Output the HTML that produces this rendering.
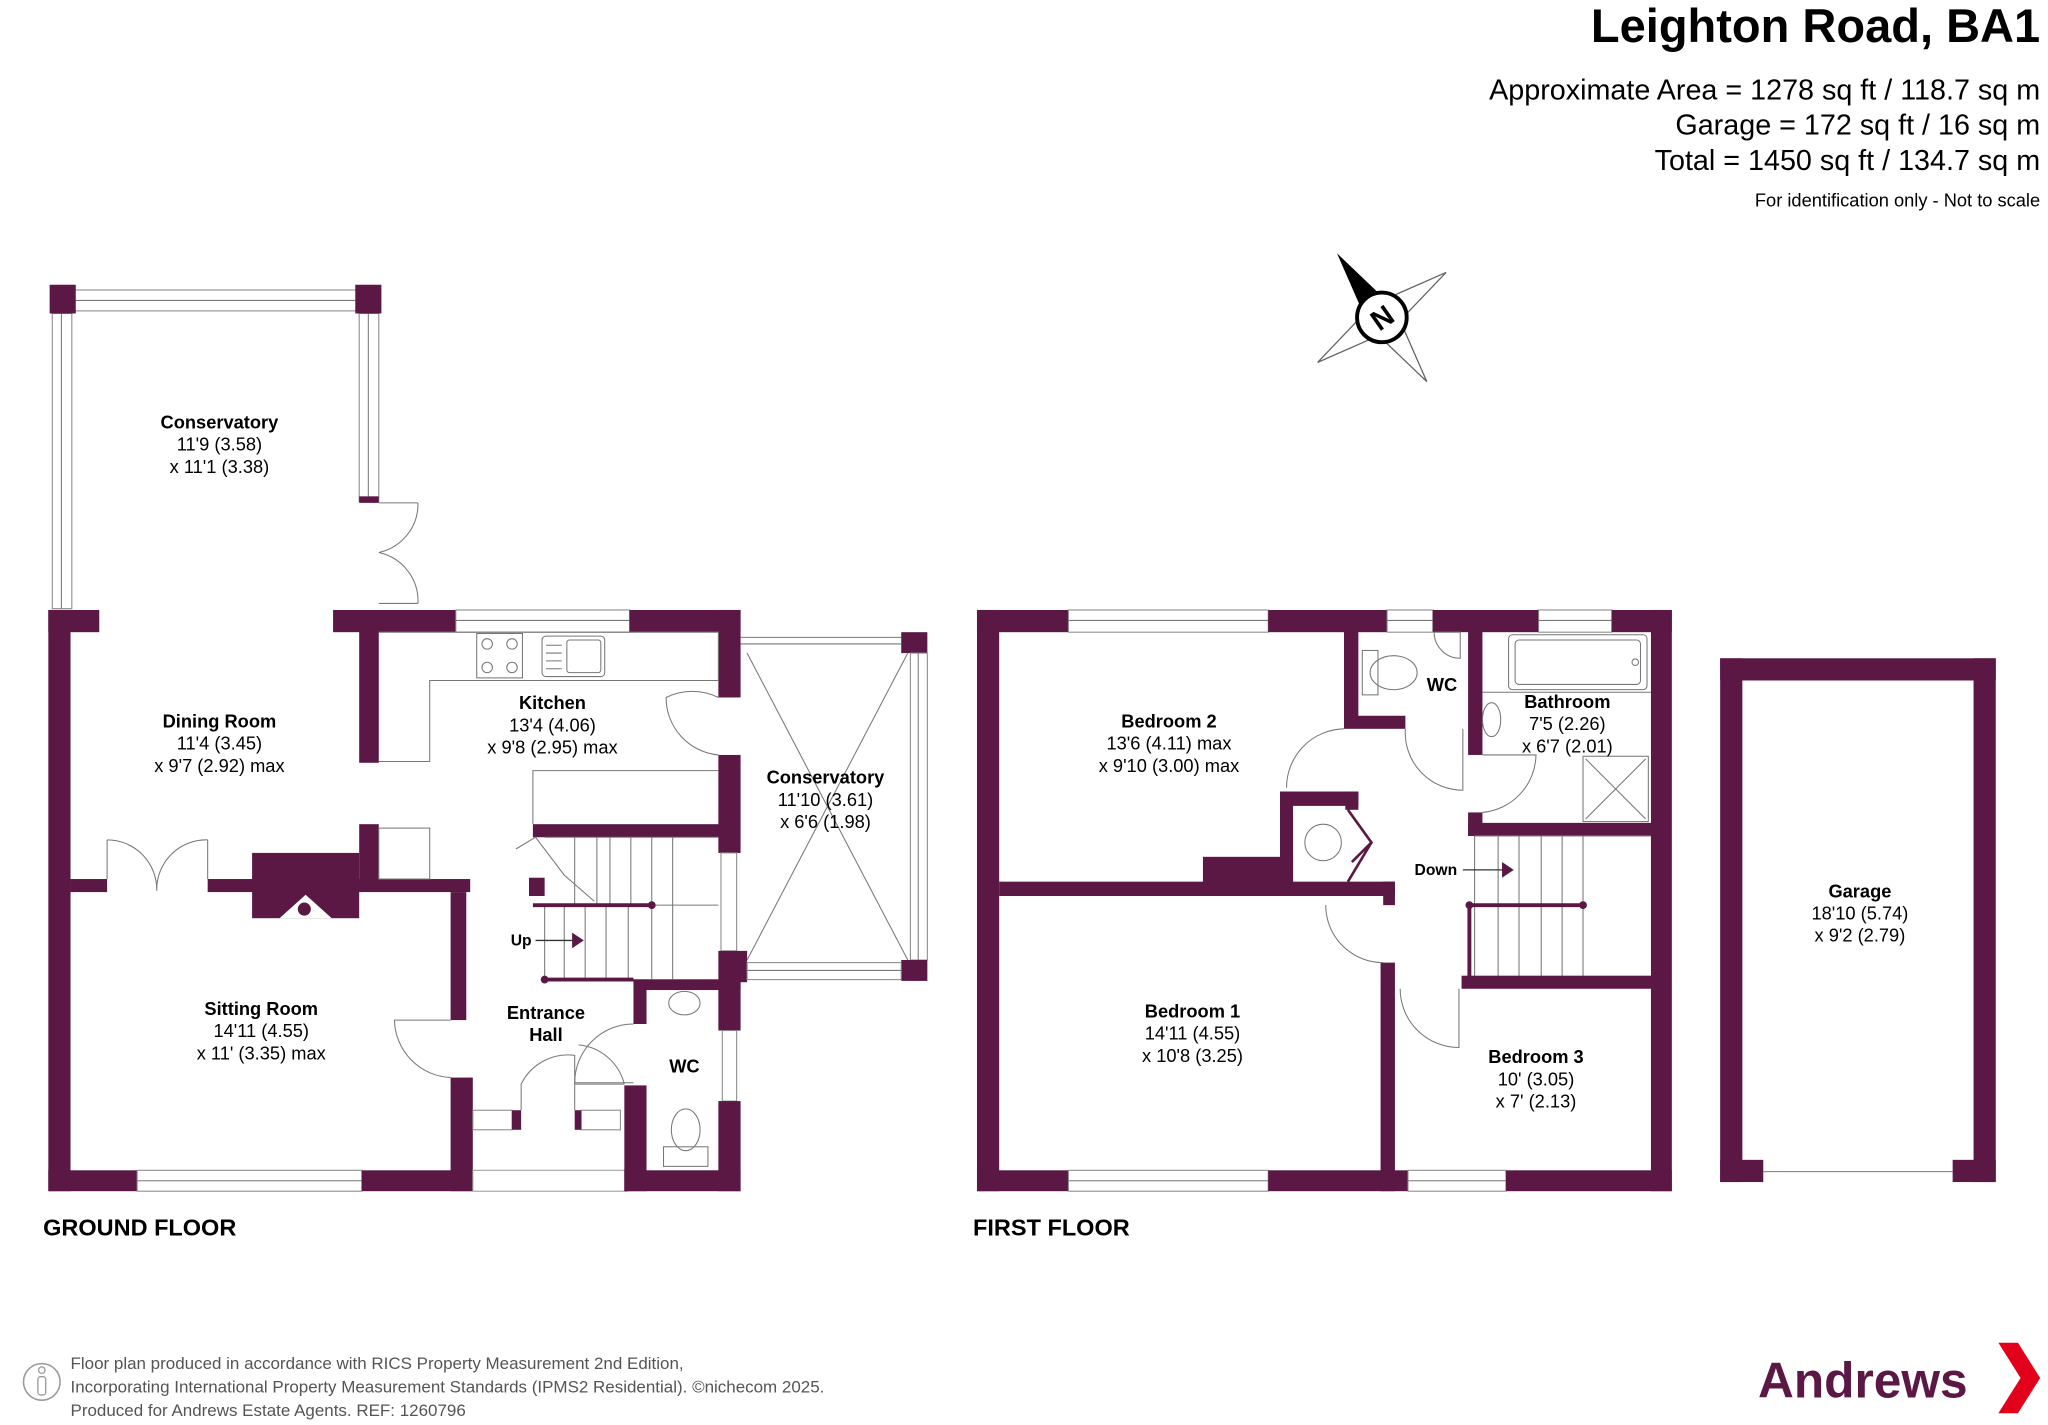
<!DOCTYPE html>
<html><head><meta charset="utf-8"><style>
html,body{margin:0;padding:0;background:#fff;}
svg{display:block;}
text{font-family:"Liberation Sans",Arial,sans-serif;fill:#000;}
.b{font-weight:bold;}
</style></head><body>
<svg width="2048" height="1425" viewBox="0 0 1568 1091" xmlns="http://www.w3.org/2000/svg">
<defs>
<style>.w{fill:#5c1845}.ln{fill:none;stroke:#777;stroke-width:0.8}.win{fill:#fff;stroke:#888;stroke-width:0.8}</style>
</defs>
<!-- Header -->
<text x="1562" y="32" text-anchor="end" class="b" font-size="36">Leighton Road, BA1</text>
<text x="1562" y="76" text-anchor="end" font-size="22">Approximate Area = 1278 sq ft / 118.7 sq m</text>
<text x="1562" y="103" text-anchor="end" font-size="22">Garage = 172 sq ft / 16 sq m</text>
<text x="1562" y="130" text-anchor="end" font-size="22">Total = 1450 sq ft / 134.7 sq m</text>
<text x="1562" y="158" text-anchor="end" font-size="14">For identification only - Not to scale</text>

<!-- Compass -->
<g transform="translate(1058,243) rotate(-35)">
<polygon points="0,60 10,10 0,0 -10,10" fill="#fff" stroke="#666"/>
<polygon points="-60,0 -10,-10 0,0 -10,10" fill="#fff" stroke="#666"/>
<polygon points="60,0 10,-10 0,0 10,10" fill="#fff" stroke="#666"/>
<polygon points="0,-60 10,-10 0,0 -10,-10" fill="#000"/>
</g>
<circle cx="1058" cy="243" r="19" fill="#fff" stroke="#000" stroke-width="3"/>
<text x="1058" y="251" text-anchor="middle" class="b" font-size="22" transform="rotate(-35 1058 243)">N</text>

<!-- ===== GROUND FLOOR ===== -->
<rect x="40" y="222" width="250" height="16" class="win"/>
<line x1="58" y1="230" x2="272" y2="230" class="ln"/>
<rect x="40" y="240" width="15" height="226" class="win"/>
<line x1="47" y1="240" x2="47" y2="466" class="ln"/>
<rect x="275" y="240" width="15" height="144" class="win"/>
<line x1="282" y1="240" x2="282" y2="384" class="ln"/>
<rect x="38" y="218" width="20" height="22" class="w"/>
<rect x="272" y="218" width="20" height="22" class="w"/>
<rect x="275" y="380" width="15" height="5" class="w"/>
<!-- conservatory double door -->
<path d="M290 385 L320 385 M320 385 A38 38 0 0 1 290 423 M290 423 A38 38 0 0 1 320 462 M320 462 L290 462" class="ln"/>

<!-- dining / sitting -->
<rect x="37" y="467" width="39" height="17" class="w"/>
<rect x="37" y="467" width="17" height="445" class="w"/>
<rect x="255" y="467" width="94" height="17" class="w"/>
<rect x="349" y="467" width="133" height="17" class="win"/>
<line x1="349" y1="475" x2="482" y2="475" class="ln"/>
<rect x="482" y="467" width="85" height="17" class="w"/>
<rect x="550" y="467" width="17" height="67" class="w"/>
<rect x="550" y="578" width="17" height="75" class="w"/>
<rect x="552" y="653" width="12" height="75" class="win"/>
<rect x="550" y="728" width="22" height="24" class="w"/>
<rect x="275" y="483" width="15" height="101" class="w"/>
<path d="M290 484 H550 V521 H329 V583 H290" class="ln"/>
<rect x="365" y="485" width="35" height="34" class="ln"/>
<circle cx="373" cy="493" r="4" class="ln"/><circle cx="392" cy="493" r="4" class="ln"/>
<circle cx="373" cy="511" r="4" class="ln"/><circle cx="392" cy="511" r="4" class="ln"/>
<rect x="415" y="487" width="48" height="31" rx="3" class="ln"/>
<rect x="434" y="490" width="26" height="25" rx="2" class="ln"/>
<line x1="418" y1="494" x2="430" y2="494" class="ln"/><line x1="418" y1="500" x2="430" y2="500" class="ln"/><line x1="418" y1="506" x2="430" y2="506" class="ln"/><line x1="418" y1="512" x2="430" y2="512" class="ln"/>
<path d="M408 631 V590 H550" class="ln"/>
<path d="M550 534 A45 45 0 0 0 510 534 A44 44 0 0 0 550 578" class="ln"/>
<rect x="408" y="631" width="144" height="10" class="w"/>
<rect x="54" y="673" width="28" height="10" class="w"/>
<rect x="159" y="673" width="201" height="10" class="w"/>
<rect x="193" y="653" width="82" height="50" class="w"/>
<polygon points="214,703 234,685 254,703" fill="#fff"/>
<circle cx="233" cy="696" r="5" class="w"/>
<rect x="275" y="631" width="15" height="50" class="w"/>
<rect x="290" y="634" width="39" height="39" class="ln"/>
<path d="M82 643 V673 M82 643 A38 38 0 0 1 120 682 M159 643 V673 M159 643 A38 38 0 0 0 120 682" class="ln"/>
<rect x="345" y="683" width="12" height="98" class="w"/>
<rect x="345" y="825" width="17" height="87" class="w"/>
<path d="M345 781 H302 A45 45 0 0 0 345 825" class="ln"/>
<rect x="37" y="896" width="68" height="16" class="w"/>
<rect x="105" y="896" width="172" height="16" class="win"/>
<line x1="105" y1="904" x2="277" y2="904" class="ln"/>
<rect x="277" y="896" width="85" height="16" class="w"/>
<rect x="362" y="896" width="118" height="16" fill="none" stroke="#999" stroke-width="0.8"/>
<rect x="362" y="850" width="30" height="15" class="win"/>
<rect x="392" y="850" width="7" height="15" class="w"/>
<rect x="445" y="850" width="30" height="15" class="win"/>
<rect x="440" y="850" width="5" height="15" class="w"/>
<path d="M399 850 V830 A40 40 0 0 1 440 808 V850" class="ln"/>
<path d="M440 830 H478 M478 830 A40 40 0 0 0 443 800" class="ln"/>
<path d="M417 641 H550 M417 693 H550 M417 750 H550" class="ln"/>
<path d="M440 641 V693 M457 641 V693 M467 641 V693 M483 641 V693 M499 641 V693 M515 641 V693" class="ln"/>
<path d="M417 693 V750 M432 693 V750 M448 693 V750 M464 693 V750 M481 693 V750 M499 693 V750 M515 693 V750" class="ln"/>
<line x1="408" y1="693" x2="499" y2="693" stroke="#5c1845" stroke-width="3"/>
<circle cx="499" cy="693" r="3" class="w"/>
<line x1="417" y1="750" x2="485" y2="750" stroke="#5c1845" stroke-width="3"/>
<circle cx="417" cy="750" r="3" class="w"/>
<rect x="405" y="672" width="12" height="14" class="w"/>
<path d="M395 650 L410 641 L432 670 L455 690" class="ln"/>
<text x="391" y="724" class="b" font-size="12">Up</text>
<line x1="410" y1="720" x2="438" y2="720" stroke="#333" stroke-width="1"/>
<polygon points="438,714 447,720 438,726" class="w"/>
<rect x="485" y="750" width="82" height="8" class="w"/>
<rect x="485" y="750" width="10" height="34" class="w"/>
<rect x="478" y="831" width="17" height="81" class="w"/>
<rect x="550" y="752" width="17" height="37" class="w"/>
<rect x="553" y="789" width="11" height="54" class="win"/>
<rect x="550" y="843" width="17" height="69" class="w"/>
<rect x="478" y="896" width="89" height="16" class="w"/>
<path d="M485 784 A45 45 0 0 0 440 829 H485" class="ln"/>
<ellipse cx="524" cy="768" rx="12" ry="9" class="ln"/>
<ellipse cx="525" cy="865" rx="11" ry="16" class="ln"/>
<rect x="508" y="878" width="34" height="15" class="ln"/>
<line x1="567" y1="488" x2="690" y2="488" class="ln"/>
<line x1="567" y1="493" x2="690" y2="493" class="ln"/>
<rect x="690" y="484" width="20" height="16" class="w"/>
<rect x="697" y="500" width="13" height="235" class="win"/>
<line x1="703" y1="500" x2="703" y2="735" class="ln"/>
<rect x="690" y="735" width="20" height="16" class="w"/>
<rect x="572" y="737" width="118" height="13" class="win"/>
<line x1="572" y1="743" x2="690" y2="743" class="ln"/>
<path d="M572 500 L695 735 M695 500 L572 735" class="ln"/>

<g font-size="14" text-anchor="middle">
<text x="168" y="328" class="b">Conservatory</text><text x="168" y="345">11'9 (3.58)</text><text x="168" y="362">x 11'1 (3.38)</text>
<text x="168" y="557" class="b">Dining Room</text><text x="168" y="574">11'4 (3.45)</text><text x="168" y="591">x 9'7 (2.92) max</text>
<text x="423" y="543" class="b">Kitchen</text><text x="423" y="560">13'4 (4.06)</text><text x="423" y="577">x 9'8 (2.95) max</text>
<text x="632" y="600" class="b">Conservatory</text><text x="632" y="617">11'10 (3.61)</text><text x="632" y="634">x 6'6 (1.98)</text>
<text x="200" y="777" class="b">Sitting Room</text><text x="200" y="794">14'11 (4.55)</text><text x="200" y="811">x 11' (3.35) max</text>
<text x="418" y="780" class="b">Entrance</text><text x="418" y="797" class="b">Hall</text>
<text x="524" y="821" class="b">WC</text>
</g>
<text x="33" y="946" class="b" font-size="18">GROUND FLOOR</text>

<!-- ===== FIRST FLOOR ===== -->
<rect x="748" y="467" width="17" height="445" class="w"/>
<rect x="1264" y="467" width="16" height="445" class="w"/>
<rect x="748" y="467" width="70" height="17" class="w"/>
<rect x="818" y="467" width="153" height="17" class="win"/><line x1="818" y1="475" x2="971" y2="475" class="ln"/>
<rect x="971" y="467" width="91" height="17" class="w"/>
<rect x="1062" y="467" width="35" height="17" class="win"/><line x1="1062" y1="475" x2="1097" y2="475" class="ln"/>
<rect x="1097" y="467" width="81" height="17" class="w"/>
<rect x="1178" y="467" width="56" height="17" class="win"/><line x1="1178" y1="475" x2="1234" y2="475" class="ln"/>
<rect x="1234" y="467" width="46" height="17" class="w"/>
<rect x="748" y="896" width="70" height="16" class="w"/>
<rect x="818" y="896" width="153" height="16" class="win"/><line x1="818" y1="904" x2="971" y2="904" class="ln"/>
<rect x="971" y="896" width="107" height="16" class="w"/>
<rect x="1078" y="896" width="75" height="16" class="win"/><line x1="1078" y1="904" x2="1153" y2="904" class="ln"/>
<rect x="1153" y="896" width="127" height="16" class="w"/>
<rect x="1029" y="483" width="11" height="68" class="w"/>
<rect x="1029" y="548" width="47" height="10" class="w"/>
<rect x="1124" y="483" width="11" height="95" class="w"/>
<rect x="1124" y="622" width="11" height="18" class="w"/>
<rect x="1124" y="630" width="141" height="10" class="w"/>
<ellipse cx="1067" cy="515" rx="18" ry="13" class="ln"/>
<rect x="1043" y="498" width="12" height="34" class="ln"/>
<path d="M1098 484 A20 20 0 0 0 1118 504 V484 Z" class="ln"/>
<path d="M1120 558 V605 A44 44 0 0 1 1076 558" class="ln"/>
<rect x="1155" y="486" width="106" height="42" rx="3" class="ln"/>
<rect x="1160" y="490" width="96" height="34" rx="3" class="ln"/>
<circle cx="1252" cy="507" r="2.5" class="ln"/>
<line x1="1135" y1="530" x2="1264" y2="530" class="ln"/>
<ellipse cx="1142" cy="551" rx="7" ry="13" class="ln"/>
<rect x="1212" y="579" width="50" height="50" class="ln"/>
<path d="M1214 581 L1260 627 M1260 581 L1214 627" class="ln"/>
<path d="M1135 578 H1176 A45 45 0 0 1 1135 622" class="ln"/>
<path d="M1129 640 H1264 M1129 749 H1264" class="ln"/>
<path d="M1129 640 V749 M1147 640 V749 M1163 640 V749 M1180 640 V749 M1196 640 V749 M1212 640 V749" class="ln"/>
<line x1="1125" y1="693" x2="1212" y2="693" stroke="#5c1845" stroke-width="3"/>
<line x1="1125" y1="693" x2="1125" y2="749" stroke="#5c1845" stroke-width="3"/>
<circle cx="1125" cy="693" r="3" class="w"/><circle cx="1212" cy="693" r="3" class="w"/>
<text x="1083" y="670" class="b" font-size="12">Down</text>
<line x1="1120" y1="666" x2="1150" y2="666" stroke="#333" stroke-width="1"/>
<polygon points="1150,660 1159,666 1150,672" class="w"/>
<rect x="1119" y="747" width="146" height="10" class="w"/>
<rect x="765" y="675" width="303" height="11" class="w"/>
<rect x="1059" y="675" width="9" height="18" class="w"/>
<rect x="921" y="656" width="69" height="20" class="w"/>
<rect x="980" y="606" width="10" height="70" class="w"/>
<rect x="980" y="606" width="60" height="11" class="w"/>
<rect x="1030" y="606" width="10" height="14" class="w"/>
<circle cx="1013" cy="645" r="14" class="ln"/>
<path d="M1032 620 L1050 645 L1035 660 M1050 645 L1032 675" stroke="#5c1845" stroke-width="2" fill="none"/>
<path d="M985 603 A45 45 0 0 1 1029 558" class="ln"/>
<rect x="1057" y="737" width="11" height="175" class="w"/>
<path d="M1015 693 A44 44 0 0 0 1059 737" class="ln"/>
<path d="M1072 757 A45 45 0 0 0 1117 802 V757" class="ln"/>
<g font-size="14" text-anchor="middle">
<text x="895" y="557" class="b">Bedroom 2</text><text x="895" y="574">13'6 (4.11) max</text><text x="895" y="591">x 9'10 (3.00) max</text>
<text x="1104" y="529" class="b">WC</text>
<text x="1200" y="542" class="b">Bathroom</text><text x="1200" y="559">7'5 (2.26)</text><text x="1200" y="576">x 6'7 (2.01)</text>
<text x="913" y="779" class="b">Bedroom 1</text><text x="913" y="796">14'11 (4.55)</text><text x="913" y="813">x 10'8 (3.25)</text>
<text x="1176" y="814" class="b">Bedroom 3</text><text x="1176" y="831">10' (3.05)</text><text x="1176" y="848">x 7' (2.13)</text>
</g>
<text x="745" y="946" class="b" font-size="18">FIRST FLOOR</text>

<!-- Garage -->
<rect x="1317" y="504" width="211" height="17" class="w"/>
<rect x="1317" y="504" width="17" height="401" class="w"/>
<rect x="1511" y="504" width="17" height="401" class="w"/>
<rect x="1317" y="888" width="33" height="17" class="w"/>
<rect x="1495" y="888" width="33" height="17" class="w"/>
<line x1="1350" y1="897" x2="1495" y2="897" class="ln"/>
<g font-size="14" text-anchor="middle">
<text x="1424" y="687" class="b">Garage</text><text x="1424" y="704">18'10 (5.74)</text><text x="1424" y="721">x 9'2 (2.79)</text>
</g>

<!-- Footer -->
<circle cx="32" cy="1058" r="14" fill="none" stroke="#999" stroke-width="1.2"/>
<circle cx="32" cy="1049" r="2.5" fill="none" stroke="#999"/>
<rect x="29" y="1054" width="6" height="14" rx="2" fill="none" stroke="#999"/>
<g font-size="13">
<text x="54" y="1048" style="fill:#555">Floor plan produced in accordance with RICS Property Measurement 2nd Edition,</text>
<text x="54" y="1066" style="fill:#555">Incorporating International Property Measurement Standards (IPMS2 Residential).  ©nichecom 2025.</text>
<text x="54" y="1084" style="fill:#555">Produced for Andrews Estate Agents.  REF: 1260796</text>
</g>
<text x="1346" y="1070" class="b" font-size="38" style="fill:#5c1845">Andrews</text>
<polygon points="1530,1028 1545,1028 1562,1055 1545,1082 1530,1082 1547,1055" fill="#e3001b"/>
</svg>
</body></html>
